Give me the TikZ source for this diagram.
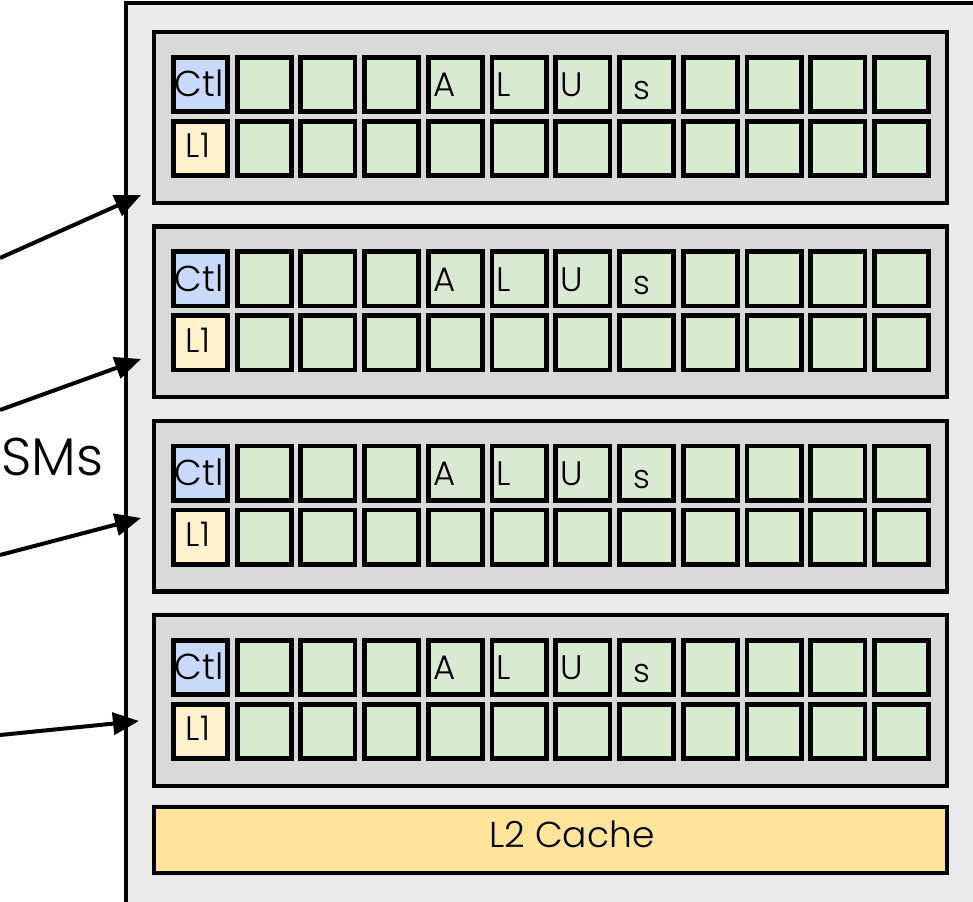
\documentclass[tikz,border=0pt]{standalone}
\usepackage{fontspec}
\setmainfont{Poppins}[UprightFont=* Light]
\usetikzlibrary{arrows.meta}
\definecolor{chipbg}{HTML}{EAEAEA}
\definecolor{smbg}{HTML}{D9D9D9}
\definecolor{alufill}{HTML}{D9EAD3}
\definecolor{ctlfill}{HTML}{C9DAF8}
\definecolor{lonefill}{HTML}{FFF2CC}
\definecolor{ltwofill}{HTML}{FFE599}
\begin{document}
\begin{tikzpicture}[x=1pt,y=-1pt,
  cellbox/.style={draw=black, line width=4.8pt, fill=alufill,
    minimum width=54.2pt, minimum height=54.2pt, inner sep=0pt, outer sep=0pt},
  smbox/.style={draw=black, line width=4.2pt, fill=smbg, inner sep=0pt, outer sep=0pt,
    minimum width=792.8pt, minimum height=170.8pt},
  cachebox/.style={draw=black, line width=4.2pt, fill=ltwofill, inner sep=0pt, outer sep=0pt,
    minimum width=792.8pt, minimum height=65.8pt},
  celltext/.style={inner sep=0pt, font=\fontsize{36}{40}\selectfont},
  alutext/.style={inner sep=0pt, anchor=base west, font=\fontsize{34}{38}\selectfont},
  pointer/.style={line width=4pt, -{Triangle[length=26pt,width=22pt]}}
]
\useasboundingbox (0,0) rectangle (973,901);
\clip (0,0) rectangle (973,901);

% chip outline, running past the right and bottom edges
\draw[line width=4pt, fill=chipbg] (125.5,3.5) rectangle (1000,930);

% four streaming multiprocessors
\foreach \k in {0,...,3} {
  \pgfmathsetmacro\smtop{30+194.3*\k}
  \node[smbox] (sm\k) at (550.5,\smtop+87.5) {};
  \foreach \i in {0,...,11} {
    \pgfmathsetmacro\cx{200.5+63.73*\i}
    \node[cellbox] (cell-\k-a-\i) at (\cx,\smtop+54.5) {};
    \node[cellbox] (cell-\k-b-\i) at (\cx,\smtop+118.5) {};
  }
  \node[cellbox, fill=ctlfill] at (cell-\k-a-0) {};
  \node[cellbox, fill=lonefill] at (cell-\k-b-0) {};
  \node[celltext, anchor=base] (ctl\k) at (199,\smtop+67) {Ctl};
  \node[celltext, anchor=base, font=\fontsize{34}{38}\selectfont] (lone\k) at (198,\smtop+128) {L1};
  \node[alutext] (la\k) at (433,\smtop+67) {A};
  \node[alutext] (ll\k) at (496,\smtop+67) {L};
  \node[alutext] (lu\k) at (560,\smtop+67) {U};
  \node[alutext, font=\fontsize{33}{36}\selectfont] (ls\k) at (633,\smtop+70) {s};
}

% shared L2 cache
\node[cachebox] (l2) at (550.5,840) {};
\node[celltext, anchor=base] (l2text) at (572,847) {L2 Cache};

% label and pointers into each SM
\node[inner sep=0pt, anchor=base west, font=\fontsize{53}{58}\selectfont] (smlabel) at (1,475) {SMs};

\coordinate (s0) at (0,258);
\coordinate (s1) at (0,410);
\coordinate (s2) at (0,555);
\coordinate (s3) at (0,735);
\coordinate (t0) at (141,195);
\coordinate (t1) at (141,359);
\coordinate (t2) at (141,518);
\coordinate (t3) at (139,721);
\foreach \k in {0,...,3} {
  \draw[pointer] (s\k) -- (t\k);
}
\end{tikzpicture}
\end{document}
